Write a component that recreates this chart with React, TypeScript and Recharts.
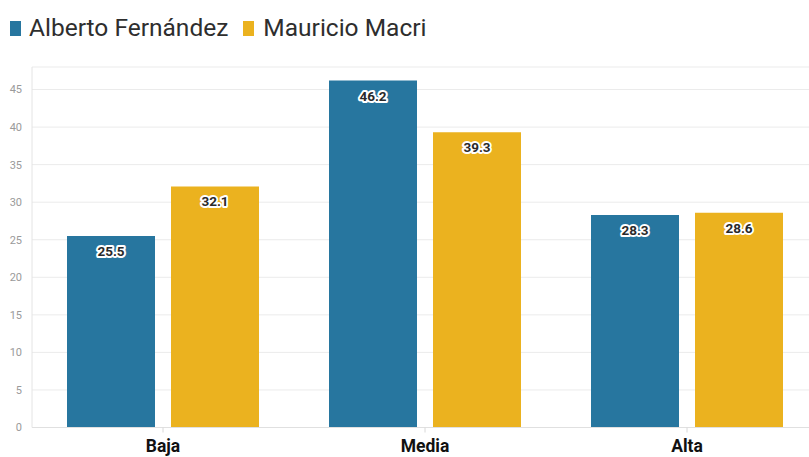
import React from "react";
import { BarChart, Bar, XAxis, YAxis, CartesianGrid, LabelList } from "recharts";

const categories = ["Baja", "Media", "Alta"];
const fernandez = [25.5, 46.2, 28.3];
const macri = [32.1, 39.3, 28.6];
const yTicks = [0, 5, 10, 15, 20, 25, 30, 35, 40, 45];
const seriesNames = ["Alberto Fernández", "Mauricio Macri"];

const BLUE = "#27769f";
const YELLOW = "#ebb21f";

const data = categories.map((c, i) => ({ cat: c, af: fernandez[i], mm: macri[i] }));

const FONT = "Roboto, 'Noto Sans', sans-serif";

const renderLabel = (props: any) => {
  const { x, y, width, value } = props;
  return (
    <text
      x={x + width / 2}
      y={y + 15}
      textAnchor="middle"
      dominantBaseline="central"
      fontFamily={FONT}
      fontWeight={700}
      fontSize={13.5}
      fill="#2a2a2a"
      stroke="#fff"
      strokeWidth={4}
      strokeLinejoin="round"
      style={{ paintOrder: "stroke" }}
    >
      {value}
    </text>
  );
};

export default function App() {
  return (
    <div style={{ position: "fixed", left: 0, top: 0, width: 809, height: 457, overflow: "hidden", background: "#fff" }}>
      <div
        style={{
          position: "absolute",
          left: 10,
          top: 16.4,
          display: "flex",
          alignItems: "flex-start",
          fontFamily: FONT,
          fontSize: 24.5,
          lineHeight: 1,
          color: "#2e2e2e",
          whiteSpace: "nowrap",
          zIndex: 2,
        }}
      >
        <span style={{ display: "inline-block", width: 11, height: 15, background: BLUE, marginTop: 4.6, marginRight: 8 }} />
        <span>{seriesNames[0]}</span>
        <span style={{ display: "inline-block", width: 11, height: 15, background: YELLOW, marginTop: 4.6, marginLeft: 15, marginRight: 9 }} />
        <span>{seriesNames[1]}</span>
      </div>
      <BarChart
        width={818}
        height={457}
        data={data}
        margin={{ top: 67, right: 0, bottom: 0, left: 0 }}
        barGap={16}
        barSize={88}
      >
        <CartesianGrid vertical={false} stroke="#ebebeb" strokeWidth={1} />
        <XAxis
          dataKey="cat"
          height={29.5}
          axisLine={{ stroke: "#e0e0e0" }}
          tickLine={{ stroke: "#d8d8d8" }}
          tickSize={5}
          tickMargin={7}
          tick={{ fontFamily: FONT, fontWeight: 700, fontSize: 17.5, fill: "#111" }}
        />
        <YAxis
          width={32}
          domain={[0, 48]}
          ticks={yTicks}
          axisLine={{ stroke: "#e4e4e4" }}
          tickLine={false}
          tickMargin={4}
          tick={{ fontFamily: FONT, fontSize: 11, fill: "#9a9a9a" }}
        />
        <Bar dataKey="af" name={seriesNames[0]} fill={BLUE} isAnimationActive={false}>
          <LabelList dataKey="af" content={renderLabel} />
        </Bar>
        <Bar dataKey="mm" name={seriesNames[1]} fill={YELLOW} isAnimationActive={false}>
          <LabelList dataKey="mm" content={renderLabel} />
        </Bar>
      </BarChart>
    </div>
  );
}
